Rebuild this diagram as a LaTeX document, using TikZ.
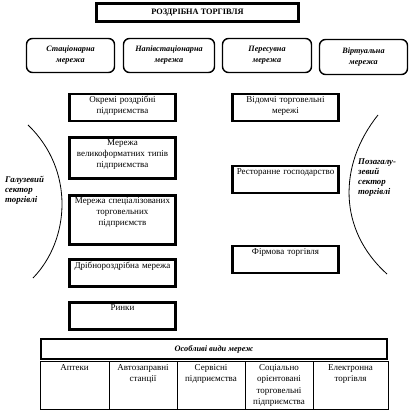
\documentclass[tikz,border=0pt]{standalone}
\usepackage{fontspec}
\setmainfont{Liberation Serif}
\usetikzlibrary{positioning}

\tikzset{
  unit/.style={draw, line width=2.8pt, minimum width=106pt, inner sep=0pt},
  unittext/.style={anchor=north, align=center, text width=102pt, inner sep=3.5pt, font=\fontsize{9}{11}\selectfont},
  net/.style={draw, line width=1.4pt, rounded corners=6pt, minimum height=34pt, align=center, font=\fontsize{8.2}{11}\selectfont\bfseries\itshape},
  cell/.style={draw, line width=1pt, minimum height=48pt, inner sep=0pt},
  celltext/.style={anchor=north, align=center, text width=66pt, inner sep=3.5pt, font=\fontsize{9}{11.5}\selectfont},
  sector/.style={anchor=north west, align=left, inner sep=0pt, font=\fontsize{8.8}{10}\selectfont\bfseries\itshape}
}

\begin{document}
\begin{tikzpicture}[x=1pt, y=-1pt]
  \useasboundingbox (0,0) rectangle (409,411);
  % title
  \node[draw, line width=3pt, minimum width=202pt, minimum height=18pt, font=\fontsize{8.3}{10}\selectfont\bfseries] (retail) at (197.5,12.5) {РОЗДРІБНА ТОРГІВЛЯ};
  % types of networks
  \node[net, minimum width=88pt] (stat) at (70.5,55.5) {Стаціонарна\\мережа};
  \node[net, minimum width=91pt] (semistat) at (169,55.5) {Напівстаціонарна\\мережа};
  \node[net, minimum width=89pt] (mobile) at (267,55.5) {Пересувна\\мережа};
  \node[net, minimum width=88pt, minimum height=35pt] (virtual) at (363.5,57) {Віртуальна\\мережа};
  % branch sector
  \node[unit, minimum height=27pt, label={[unittext]north:Окремі роздрібні\\підприємства}] (single) at (122.5,107.5) {};
  \node[unit, minimum height=41pt, label={[unittext]north:Мережа\\великоформатних типів\\підприємства}] (large) at (122.5,158) {};
  \node[unit, minimum height=49pt, label={[unittext]north:Мережа спеціалізованих\\торговельних\\підприємств}] (special) at (122.5,220) {};
  \node[unit, minimum height=27pt, label={[unittext]north:Дрібнороздрібна мережа}] (small) at (122.5,273) {};
  \node[unit, minimum height=27pt, label={[unittext]north:Ринки}] (markets) at (122.5,316) {};
  % non-branch sector
  \node[unit, minimum height=27pt, label={[unittext]north:Відомчі торговельні\\мережі}] (dept) at (285.5,107.5) {};
  \node[unit, minimum height=27pt, label={[unittext]north:Ресторанне господарство}] (rest) at (285.5,179.5) {};
  \node[unit, minimum height=27pt, label={[unittext]north:Фірмова торгівля}] (brand) at (285.5,259.5) {};
  % sector labels and arcs
  \node[sector] (branch) at (5,176) {Галузевий\\сектор\\торгівлі};
  \node[sector] (outside) at (358,159) {Позагалу-\\зевий\\сектор\\торгівлі};
  \draw[line width=0.8pt] (28,125) .. controls (75,170) and (70,240) .. (33,278);
  \draw[line width=0.8pt] (378,115) .. controls (338,165) and (338,230) .. (387,274);
  % special networks
  \node[draw, line width=2.5pt, minimum width=346pt, minimum height=20pt, font=\fontsize{8.3}{10}\selectfont\bfseries\itshape] (kinds) at (214,349) {Особливі види мереж};
  \node[cell, minimum width=69pt, label={[celltext]north:Аптеки}] (pharm) at (74.5,385) {};
  \node[cell, minimum width=68pt, label={[celltext]north:Автозаправні\\станції}] (fuel) at (143,385) {};
  \node[cell, minimum width=68pt, label={[celltext]north:Сервісні\\підприємства}] (service) at (211,385) {};
  \node[cell, minimum width=68pt, label={[celltext]north:Соціально\\орієнтовані\\торговельні\\підприємства}] (social) at (279,385) {};
  \node[cell, minimum width=75pt, label={[celltext]north:Електронна\\торгівля}] (online) at (350.5,385) {};
\end{tikzpicture}
\end{document}
